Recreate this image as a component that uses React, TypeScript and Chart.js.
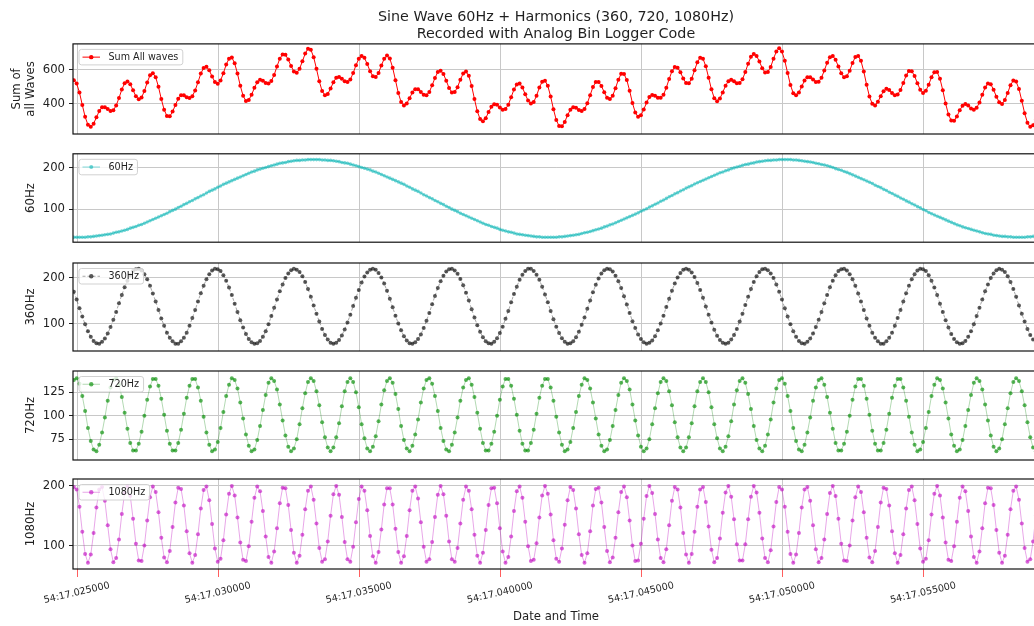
import React, { useEffect, useRef } from 'react';
import { Chart, registerables } from 'chart.js';

Chart.register(...registerables);

const FAMILY = "'DejaVu Sans', 'Liberation Sans', sans-serif";
Chart.defaults.font.family = FAMILY;

// ---- time axis (milliseconds after 54:17.000) ----
const startMs = 24.88;
const stepMs = 0.1;
const xMin = 24.85;
const xMax = 59.09;
const xTickValues = [25, 30, 35, 40, 45, 50, 55];
const xTickLabels = [
  '54:17.025000', '54:17.030000', '54:17.035000', '54:17.040000',
  '54:17.045000', '54:17.050000', '54:17.055000',
];

// ---- y tick values ----
const sumTicks = [400, 600];
const hz60Ticks = [100, 200];
const hz360Ticks = [100, 200];
const hz720Ticks = [75, 100, 125];
const hz1080Ticks = [100, 200];

// ---- recorded samples ----
const hz60 = [
  32,32,32,32,32,33,33,34,35,36,37,38,39,40,42,44,45,47,49,51,54,56,58,61,63,66,69,72,75,78,81,84,87,90,94,97,100,104,107,111,114,118,121,125,128,132,135,139,143,146,149,153,156,160,163,166,169,172,175,178,181,184,187,190,192,195,197,199,201,203,205,207,209,211,212,213,215,216,217,218,218,219,219,220,220,220,
  220,220,219,219,218,218,217,216,215,213,212,211,209,207,205,203,201,199,197,195,192,190,187,184,181,178,175,172,169,166,163,160,156,153,149,146,143,139,135,132,128,125,121,118,114,111,107,104,100,97,94,90,87,84,81,78,75,72,69,66,63,61,58,56,54,51,49,47,45,44,42,40,39,38,37,36,35,34,33,33,32,32,32,
  32,32,32,33,33,34,35,36,37,38,39,41,43,44,46,48,50,52,54,57,59,62,64,67,70,73,76,79,82,85,88,91,95,98,101,105,108,112,115,119,122,126,130,133,137,140,144,147,151,154,157,161,164,167,170,173,176,179,182,185,188,190,193,195,198,200,202,204,206,208,209,211,212,214,215,216,217,218,218,219,219,220,220,
  220,220,220,219,219,218,217,216,215,214,213,211,210,208,207,205,203,201,198,196,194,191,189,186,183,180,177,174,171,168,165,162,158,155,152,148,145,141,138,134,131,127,124,120,117,113,110,106,103,99,96,92,89,86,83,80,77,74,71,68,65,62,60,57,55,53,51,49,47,45,43,41,40,39,37,36,35,34,34,33,33,32,32,32,32,32,33,33,34,34,
];

const hz360 = [
  170,153,134,116,99,84,72,63,58,57,61,68,79,93,109,126,145,163,180,194,206,215,219,220,216,208,197,183,
  166,149,130,112,96,81,70,62,57,57,62,70,81,96,113,130,149,167,183,197,208,216,220,219,215,206,194,179,
  163,144,126,108,92,78,67,60,57,58,63,72,84,99,117,135,153,171,186,200,210,217,220,218,213,204,191,176,
  159,140,122,105,89,76,66,59,57,59,65,75,88,103,120,139,157,174,190,203,212,218,220,218,211,201,188,172,
  155,136,118,101,86,73,64,58,57,60,67,77,91,
  107,124,143,161,178,193,205,214,219,220,216,209,198,184,168,151,132,114,97,83,71,62,58,57,61,69,80,94,
  111,128,147,165,181,196,207,215,220,220,215,207,196,181,164,147,128,110,94,80,69,61,57,58,62,71,83,98,
  114,133,151,169,185,199,210,217,220,219,214,205,193,178,160,142,124,106,91,77,67,60,57,59,64,73,86,101,
  118,137,155,172,188,201,211,218,220,218,212,202,189,174,157,138,120,103,87,74,65,59,57,59,66,76,89,105,
  122,141,159,176,191,204,213,219,220,217,210,200,186,
  170,153,134,116,99,84,72,63,58,57,61,68,79,93,109,126,145,163,180,194,206,215,219,220,216,208,197,183,
  166,149,130,112,96,81,70,62,57,57,62,70,81,96,113,130,149,167,183,197,208,216,220,219,215,206,194,179,
  163,144,126,108,92,78,67,60,57,58,63,72,84,99,117,135,153,171,186,200,210,217,220,218,213,204,191,176,
  159,140,122,105,89,76,66,59,
];

const hz720 = [
  138,140,134,121,105,87,73,64,62,69,82,98,116,130,
  138,140,133,120,103,86,71,63,63,70,83,100,117,131,
  139,139,132,118,101,84,70,63,63,71,85,102,119,132,
  139,139,130,116,99,82,69,62,64,72,87,104,121,133,
  140,138,129,114,97,80,68,62,64,74,89,106,122,135,
  140,137,128,112,95,79,67,62,65,75,91,108,124,136,
  140,137,126,111,93,77,66,62,66,77,92,110,126,136,
  140,136,125,109,91,76,65,62,67,78,94,112,127,137,
  140,135,123,107,89,74,65,62,68,80,96,114,129,
  138,140,134,121,105,87,73,64,62,69,82,98,116,130,
  138,140,133,120,103,86,71,63,63,70,83,100,117,131,
  139,139,132,118,101,84,70,63,63,71,85,102,119,132,
  139,139,130,116,99,82,69,62,64,72,87,104,121,133,
  140,138,129,114,97,80,68,62,64,74,89,106,122,135,
  140,137,128,112,95,79,67,62,65,75,91,108,124,136,
  140,137,126,111,93,77,66,62,66,77,92,110,126,136,
  140,136,125,109,91,76,65,62,67,78,94,112,127,137,
  140,135,123,107,89,74,65,62,68,80,96,114,129,
  138,140,134,121,105,87,73,64,62,69,82,98,116,130,
  138,140,133,120,103,86,71,63,63,70,83,100,117,131,
  139,139,132,118,101,84,70,63,63,71,85,102,119,132,
  139,139,130,116,99,82,69,62,64,72,87,104,121,133,
  140,138,129,114,97,80,68,62,64,74,89,106,122,135,
  140,137,128,112,95,79,67,62,65,75,91,108,124,136,
  140,137,126,111,93,77,66,62,
];

const hz1080 = [
  198,194,165,123,86,71,85,121,164,
  194,198,175,134,94,72,79,110,153,
  188,200,183,145,103,75,74,100,142,
  181,199,190,156,113,80,72,91,131,
  172,197,195,167,124,87,71,84,119,
  162,193,199,176,136,95,73,78,109,
  152,187,200,184,147,105,76,74,99,
  140,180,199,191,158,115,81,71,90,
  129,171,197,196,168,126,88,71,83,
  118,161,192,199,177,137,96,73,77,
  107,150,186,200,185,148,106,77,73,
  98,139,178,199,192,159,116,82,71,
  89,127,169,196,196,169,128,89,71,
  82,116,159,192,199,179,139,98,73,
  77,106,148,185,200,186,150,107,77,
  73,96,137,177,199,192,161,118,83,
  71,88,126,168,196,197,171,129,90,
  71,81,115,158,191,199,180,140,99,
  74,76,104,147,184,200,187,152,109,
  78,73,95,135,176,198,193,162,119,
  84,71,87,124,167,195,197,172,131,
  91,72,80,113,156,190,199,181,142,
  100,74,75,103,145,183,200,188,153,
  110,79,72,94,134,175,198,194,164,
  121,85,71,86,123,165,194,198,173,
  132,93,72,79,112,155,189,200,182,
  144,102,75,75,102,144,182,200,189,
  155,112,79,72,92,132,173,198,194,
  165,123,86,71,85,121,164,194,198,
  175,134,94,72,79,110,153,188,200,
  183,145,103,75,74,100,142,181,199,
  190,156,113,80,72,91,131,172,197,
  195,167,124,87,71,84,119,162,193,
  199,176,136,95,73,78,109,152,187,
  200,184,147,105,76,74,99,140,180,
  199,191,158,115,81,71,90,129,171,
  197,196,168,126,88,71,83,118,161,
  192,199,177,137,96,73,77,107,150,
];

// sum of the four recorded channels
const nSamples = Math.min(hz60.length, hz360.length, hz720.length, hz1080.length);
const sumAll = hz60.slice(0, nSamples).map((v, i) => v + hz360[i] + hz720[i] + hz1080[i]);

type Panel = {
  key: string;
  label: string;
  title: string | string[];
  titlePad: number;
  values: number[];
  yMin: number;
  yMax: number;
  yTicks: number[];
  canvasTop: number;
  canvasHeight: number;
  padTop: number;
  padBottom: number;
  pointColor: string;
  lineColor: string;
  dash: number[];
  radius: number;
};

const panels: Panel[] = [
  {
    key: 'sum', label: 'Sum All waves', title: ['Sum of', 'all Waves'], titlePad: 9.5,
    values: sumAll, yMin: 221, yMax: 752, yTicks: sumTicks,
    canvasTop: 0, canvasHeight: 136, padTop: 0, padBottom: 1,
    pointColor: '#ff0000', lineColor: '#ff0000', dash: [], radius: 2,
  },
  {
    key: 'h60', label: '60Hz', title: '60Hz', titlePad: 23.5,
    values: hz60, yMin: 20, yMax: 234, yTicks: hz60Ticks,
    canvasTop: 152, canvasHeight: 92, padTop: 1, padBottom: 1,
    pointColor: 'rgba(0,178,178,0.55)', lineColor: 'rgba(0,178,178,0.5)', dash: [], radius: 1.8,
  },
  {
    key: 'h360', label: '360Hz', title: '360Hz', titlePad: 23.5,
    values: hz360, yMin: 41, yMax: 232.6, yTicks: hz360Ticks,
    canvasTop: 261, canvasHeight: 92, padTop: 1, padBottom: 1,
    pointColor: 'rgba(20,20,20,0.7)', lineColor: 'rgba(0,0,0,0.35)', dash: [3, 2], radius: 2,
  },
  {
    key: 'h720', label: '720Hz', title: '720Hz', titlePad: 23.5,
    values: hz720, yMin: 52.8, yMax: 147.6, yTicks: hz720Ticks,
    canvasTop: 369, canvasHeight: 93, padTop: 1, padBottom: 1,
    pointColor: 'rgba(0,140,0,0.65)', lineColor: 'rgba(0,128,0,0.3)', dash: [], radius: 2,
  },
  {
    key: 'h1080', label: '1080Hz', title: '1080Hz', titlePad: 23.5,
    values: hz1080, yMin: 60.7, yMax: 211.6, yTicks: hz1080Ticks,
    canvasTop: 477, canvasHeight: 149, padTop: 1, padBottom: 0,
    pointColor: 'rgba(190,0,190,0.6)', lineColor: 'rgba(190,0,190,0.35)', dash: [], radius: 2,
  },
];

const CANVAS_W = 1041;
const GRID = '#c8c8c8';
const TEXT = '#1f1f1f';

function overlayPlugin(p: Panel, isLast: boolean) {
  return {
    id: 'overlay',
    afterDraw(chart: any) {
      const { ctx, chartArea: a } = chart;
      ctx.save();
      // frame (spines)
      ctx.strokeStyle = '#111';
      ctx.lineWidth = 1.2;
      ctx.setLineDash([]);
      ctx.strokeRect(a.left, a.top, a.right - a.left, a.bottom - a.top);

      // legend box
      ctx.font = `9.6px ${FAMILY}`;
      const tw = ctx.measureText(p.label).width;
      const x0 = a.left + 6;
      const y0 = a.top + 5.5;
      const w = 29.5 + tw + 4.5;
      const h = 15.5;
      const cy = y0 + h / 2;
      ctx.beginPath();
      if ((ctx as any).roundRect) (ctx as any).roundRect(x0, y0, w, h, 2.5);
      else ctx.rect(x0, y0, w, h);
      ctx.fillStyle = 'rgba(255,255,255,0.8)';
      ctx.fill();
      ctx.strokeStyle = 'rgba(204,204,204,0.9)';
      ctx.lineWidth = 1;
      ctx.stroke();
      ctx.beginPath();
      ctx.strokeStyle = p.lineColor;
      ctx.lineWidth = 1;
      ctx.setLineDash(p.dash);
      ctx.moveTo(x0 + 3.5, cy);
      ctx.lineTo(x0 + 21, cy);
      ctx.stroke();
      ctx.setLineDash([]);
      ctx.beginPath();
      ctx.fillStyle = p.pointColor;
      ctx.arc(x0 + 12.25, cy, p.radius + 0.2, 0, Math.PI * 2);
      ctx.fill();
      ctx.fillStyle = TEXT;
      ctx.textAlign = 'left';
      ctx.textBaseline = 'middle';
      ctx.fillText(p.label, x0 + 29.5, cy + 0.5);

      // rotated x tick labels under the last panel
      if (isLast) {
        const xs = chart.scales.x;
        ctx.font = `9.6px ${FAMILY}`;
        ctx.fillStyle = TEXT;
        ctx.textAlign = 'center';
        ctx.textBaseline = 'middle';
        xTickValues.forEach((v, i) => {
          const px = xs.getPixelForValue(v);
          ctx.save();
          ctx.translate(px - 0.5, a.bottom + 24);
          ctx.rotate((-13 * Math.PI) / 180);
          ctx.fillText(xTickLabels[i], 0, 0);
          ctx.restore();
        });
      }
      ctx.restore();
    },
  };
}

function buildChart(canvas: HTMLCanvasElement, p: Panel, isFirst: boolean, isLast: boolean) {
  const points = p.values.map((y, i) => ({ x: startMs + i * stepMs, y }));
  return new Chart(canvas, {
    type: 'line',
    data: {
      datasets: [
        {
          label: p.label,
          data: points,
          borderColor: p.lineColor,
          borderWidth: 1,
          borderDash: p.dash,
          pointRadius: p.radius,
          pointBackgroundColor: p.pointColor,
          pointBorderWidth: 0,
          pointBorderColor: 'rgba(0,0,0,0)',
          pointHoverRadius: p.radius,
          tension: 0,
          fill: false,
        },
      ],
    },
    options: {
      animation: false,
      responsive: false,
      devicePixelRatio: 1,
      events: [],
      layout: { padding: { top: p.padTop, bottom: p.padBottom, left: 0, right: 0 } },
      plugins: {
        legend: { display: false },
        tooltip: { enabled: false },
        title: isFirst
          ? {
              display: true,
              fullSize: false,
              text: ['Sine Wave 60Hz + Harmonics (360, 720, 1080Hz)', 'Recorded with Analog Bin Logger Code'],
              color: TEXT,
              font: { size: 14.3, weight: 'normal', lineHeight: 1.15, family: FAMILY },
              padding: { top: 9.5, bottom: 1.5 },
            }
          : { display: false },
      },
      scales: {
        x: {
          type: 'linear',
          min: xMin,
          max: xMax,
          afterBuildTicks: (s: any) => {
            s.ticks = xTickValues.map((value) => ({ value }));
          },
          afterFit: (s: any) => {
            s.height = isLast ? 57 : 0;
            s.paddingLeft = 0;
            s.paddingRight = 0;
          },
          ticks: { display: false },
          grid: {
            color: GRID,
            lineWidth: 1,
            drawTicks: isLast,
            tickLength: 8,
            tickColor: 'rgba(255,40,40,0.75)',
            tickWidth: 1,
          },
          border: { display: false },
          title: isLast
            ? {
                display: true,
                text: 'Date and Time',
                color: TEXT,
                font: { size: 11.7, lineHeight: 1.2, family: FAMILY },
                padding: { top: 0, bottom: 2 },
              }
            : { display: false },
        },
        y: {
          type: 'linear',
          min: p.yMin,
          max: p.yMax,
          afterBuildTicks: (s: any) => {
            s.ticks = p.yTicks.map((value) => ({ value }));
          },
          afterFit: (s: any) => {
            s.width = 73;
            s.paddingTop = 0;
            s.paddingBottom = 0;
          },
          ticks: {
            color: TEXT,
            padding: 4,
            font: { size: 11.7, family: FAMILY },
            callback: (v: any) => String(v),
          },
          grid: { color: GRID, lineWidth: 1, drawTicks: true, tickLength: 4, tickColor: '#222' },
          border: { display: false },
          title: {
            display: true,
            text: p.title,
            color: TEXT,
            font: { size: 11.7, lineHeight: 1.2, family: FAMILY },
            padding: { top: p.titlePad, bottom: 0 },
          },
        },
      },
    } as any,
    plugins: [overlayPlugin(p, isLast)],
  });
}

export default function App() {
  const refs = useRef<(HTMLCanvasElement | null)[]>([]);

  useEffect(() => {
    const charts: Chart[] = [];
    panels.forEach((p, k) => {
      const c = refs.current[k];
      if (c) charts.push(buildChart(c, p, k === 0, k === panels.length - 1));
    });
    return () => charts.forEach((c) => c.destroy());
  }, []);

  return (
    <div
      style={{
        position: 'absolute',
        left: 0,
        top: 0,
        width: 1034,
        height: 626,
        overflow: 'hidden',
        background: '#ffffff',
      }}
    >
      {panels.map((p, k) => (
        <canvas
          key={p.key}
          ref={(el) => {
            refs.current[k] = el;
          }}
          width={CANVAS_W}
          height={p.canvasHeight}
          style={{
            position: 'absolute',
            left: 0,
            top: p.canvasTop,
            width: CANVAS_W,
            height: p.canvasHeight,
          }}
        />
      ))}
    </div>
  );
}
